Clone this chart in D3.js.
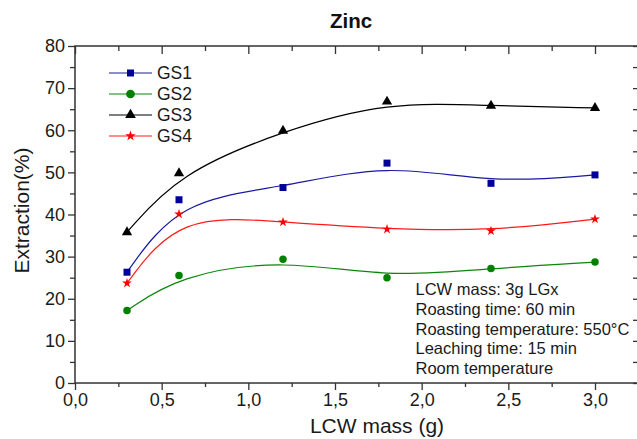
<!DOCTYPE html>
<html>
<head>
<meta charset="utf-8">
<script src="https://cdn.jsdelivr.net/npm/d3@7"></script>
<style>
  html, body { margin: 0; padding: 0; background: #fff; }
  svg { display: block; font-family: Arial, "Liberation Sans", sans-serif; }
</style>
</head>
<body>
<svg id="chart" width="637" height="439"></svg>
<script>
// ---------- data ----------
const title = "Zinc";
const xLabel = "LCW mass (g)";
const yLabel = "Extraction(%)";
const lcwMass = [0.3, 0.6, 1.2, 1.8, 2.4, 3.0];
const seriesNames = ["GS1", "GS2", "GS3", "GS4"];
const gs1 = [26.3, 43.5, 46.4, 52.2, 47.4, 49.4];
const gs2 = [17.2, 25.5, 29.4, 25.0, 27.2, 28.7];
const gs3 = [35.8, 49.8, 59.9, 66.8, 65.8, 65.3];
const gs4 = [23.7, 40.1, 38.2, 36.5, 36.1, 38.9];
const xTicks = [0, 0.5, 1.0, 1.5, 2.0, 2.5, 3.0];
const yTicks = [0, 10, 20, 30, 40, 50, 60, 70, 80];
const notes = [
  "LCW mass: 3g LGx",
  "Roasting time: 60 min",
  "Roasting temperature: 550°C",
  "Leaching time: 15 min",
  "Room temperature"
];

// ---------- styling ----------
const styles = [
  { line: "#1a1aa0", fill: "#000096", symbol: d3.symbolSquare, size: 49, legendSize: 49 },
  { line: "#0b860b", fill: "#008000", symbol: d3.symbolCircle, size: 44, legendSize: 60 },
  { line: "#000000", fill: "#000000", symbol: d3.symbolTriangle, size: 46, legendSize: 50 },
  { line: "#ff1a1a", fill: "#ff0000", symbol: d3.symbolStar, size: 30, legendSize: 34 }
];
const allSeries = [gs1, gs2, gs3, gs4];

(function () {
const svg = d3.select("#chart");
const mLeft = 75, mTop = 46, mBottom = 383, rightPx = 640;
const x = d3.scaleLinear().domain([0, 3.0]).range([mLeft, 595]);
const xMax = x.invert(rightPx);
const y = d3.scaleLinear().domain([0, 80]).range([mBottom, mTop]);
const axisColor = "#333";
const commaFmt = d3.formatLocale({ decimal: ",", thousands: ".", grouping: [3], currency: ["", ""] }).format(".1f");

const g = svg.append("g");
const xMinorAll = d3.range(0, xMax + 0.001, 0.25);
const yMinorAll = d3.range(0, 80.001, 5);

g.append("g").attr("transform", `translate(0,${mBottom})`)
  .call(d3.axisBottom(x).tickValues(xTicks).tickFormat(commaFmt).tickSize(7).tickPadding(3));
g.append("g").attr("transform", `translate(0,${mTop})`)
  .call(d3.axisBottom(x).tickValues(xTicks).tickFormat("").tickSize(8));
g.append("g").attr("transform", `translate(${mLeft},0)`)
  .call(d3.axisLeft(y).tickValues(yTicks).tickSize(7).tickPadding(3));
g.append("g").attr("transform", `translate(${rightPx},0)`)
  .call(d3.axisLeft(y).tickValues(yMinorAll).tickFormat("").tickSize(7));

const minorX = xMinorAll.filter(v => !xTicks.some(t => Math.abs(t - v) < 1e-6));
const minorY = yMinorAll.filter(v => !yTicks.includes(v));
g.append("g").attr("transform", `translate(0,${mBottom})`)
  .call(d3.axisBottom(x).tickValues(minorX).tickFormat("").tickSize(4));
g.append("g").attr("transform", `translate(0,${mTop})`)
  .call(d3.axisBottom(x).tickValues(minorX).tickFormat("").tickSize(5));
g.append("g").attr("transform", `translate(${mLeft},0)`)
  .call(d3.axisLeft(y).tickValues(minorY).tickFormat("").tickSize(5));

g.selectAll(".domain").remove();
g.selectAll(".tick line").attr("stroke", axisColor).attr("stroke-width", 1.3);
g.selectAll(".tick text").attr("fill", "#1a1a1a").style("font-size", "18px")
  .style("font-family", "Arial, 'Liberation Sans', sans-serif");

g.append("rect").attr("x", mLeft).attr("y", mTop)
  .attr("width", rightPx - mLeft).attr("height", mBottom - mTop)
  .attr("fill", "none").attr("stroke", axisColor).attr("stroke-width", 1.5);

// ---------- curves & markers ----------
const line = d3.line().x(d => x(d[0])).y(d => y(d[1])).curve(d3.curveBasis);
allSeries.forEach((vals, i) => {
  const pts = lcwMass.map((m, j) => [m, vals[j]]);
  svg.append("path").attr("d", line(pts))
    .attr("fill", "none").attr("stroke", styles[i].line).attr("stroke-width", 1.2);
});
allSeries.forEach((vals, i) => {
  const sym = d3.symbol().type(styles[i].symbol).size(styles[i].size);
  svg.append("g").selectAll("path").data(lcwMass.map((m, j) => [m, vals[j]]))
    .join("path")
    .attr("d", sym)
    .attr("transform", d => `translate(${x(d[0])},${y(d[1])})`)
    .attr("fill", styles[i].fill);
});

// ---------- legend ----------
const legend = svg.append("g");
const legRowY = [73, 94, 115, 136];
seriesNames.forEach((name, i) => {
  const ly = legRowY[i];
  legend.append("line").attr("x1", 109).attr("x2", 152).attr("y1", ly).attr("y2", ly)
    .attr("stroke", styles[i].line).attr("stroke-width", 1.2);
  legend.append("path").attr("d", d3.symbol().type(styles[i].symbol).size(styles[i].legendSize)())
    .attr("transform", `translate(130.5,${ly})`).attr("fill", styles[i].fill);
  legend.append("text").attr("x", 157).attr("y", ly + 6.2)
    .attr("fill", "#1a1a1a").style("font-size", "17.5px").text(name);
});

// ---------- notes ----------
const nt = svg.append("g");
notes.forEach((t, i) => {
  nt.append("text").attr("x", 415.5).attr("y", 295 + i * 19.8)
    .attr("fill", "#1a1a1a").style("font-size", "16.5px").text(t);
});

// ---------- titles ----------
svg.append("text").attr("x", 351).attr("y", 28).attr("text-anchor", "middle")
  .style("font-size", "20.5px").style("font-weight", "bold").attr("fill", "#111").text(title);
svg.append("text").attr("x", 377).attr("y", 433).attr("text-anchor", "middle")
  .style("font-size", "21px").attr("fill", "#1a1a1a").text(xLabel);
svg.append("text").attr("transform", "translate(28.5,210.5) rotate(-90)").attr("text-anchor", "middle")
  .style("font-size", "21px").attr("fill", "#1a1a1a").text(yLabel);
})();
</script>
</body>
</html>
